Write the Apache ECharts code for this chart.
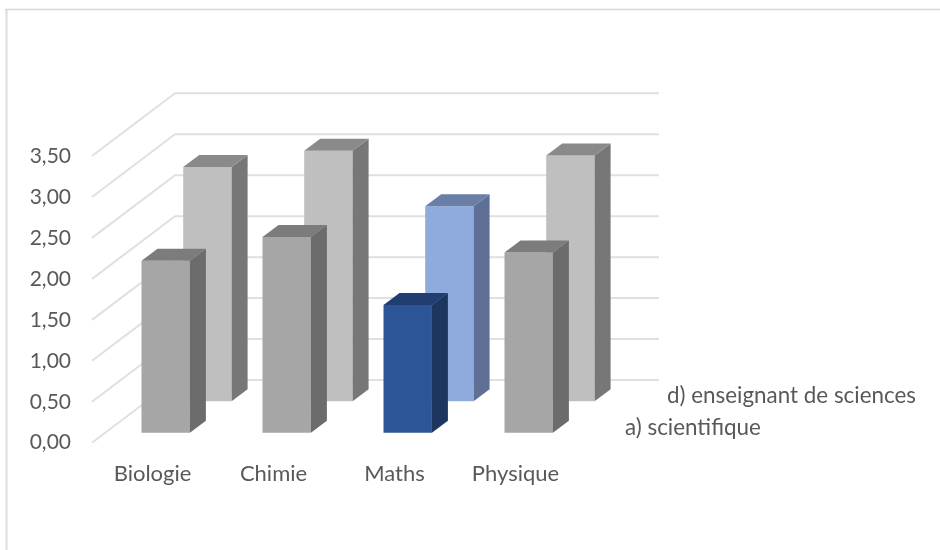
<!DOCTYPE html>
<html>
<head>
<meta charset="utf-8">
<style>html,body{margin:0;padding:0;background:#fff}#chart{width:940px;height:550px}</style>
<script src="https://cdn.jsdelivr.net/npm/echarts@6/dist/echarts.min.js"></script>
</head>
<body>
<div id="chart"></div>
<script>
// Subjects along the front edge, and the two rows of bars behind it
const categories = ['Biologie', 'Chimie', 'Maths', 'Physique'];
const scientifique = [2.10, 2.39, 1.56, 2.20];
const enseignant = [2.86, 3.06, 2.38, 3.00];
const yTicks = [0, 0.5, 1, 1.5, 2, 2.5, 3, 3.5];
const rowNames = ['a) scientifique', 'd) enseignant de sciences'];
const highlighted = 'Maths';

// Face colours of a box: front, side, top
const frontGrey = ['#a6a6a6', '#6c6c6c', '#7c7c7c'];
const backGrey = ['#bfbfbf', '#777777', '#8a8a8a'];
const frontBlue = ['#2c5597', '#1c3660', '#203e70'];
const backBlue = ['#8faadc', '#5f7097', '#6a7fa8'];

// Oblique projection: how far the floor recedes, and each row's place on it
const wallDepth = [83, -62.7];
const boxDepth = [16, -12];
const frontRow = [13.2, -10];
const backRow = [54.9, -41.4];
const barShare = 0.4;
const gridColor = '#e0e0e0';
const textColor = '#595959';
const font = 'Lato';

function wallItem(params, api) {
  const cs = params.coordSys;
  const y = api.coord([0, api.value(1)])[1];
  const bx = cs.x + wallDepth[0], by = y + wallDepth[1];
  return {
    type: 'polyline',
    shape: { points: [[cs.x, y], [bx, by], [bx + cs.width, by]] },
    style: { stroke: gridColor, lineWidth: 2, fill: null }
  };
}

function boxRenderer(row, plain, accent) {
  return function (params, api) {
    const i = api.value(0);
    const colors = categories[i] === highlighted ? accent : plain;
    const width = api.size([1, 0])[0] * barShare;
    const base = api.coord([i, 0]);
    const top = api.coord([i, api.value(1)]);
    const l = base[0] + row[0] - width / 2, r = l + width;
    const yb = base[1] + row[1], yt = top[1] + row[1];
    const dx = boxDepth[0], dy = boxDepth[1];
    const face = (points, fill) => ({
      type: 'polygon', shape: { points }, style: { fill, stroke: null }
    });
    return {
      type: 'group',
      children: [
        face([[l, yb], [r, yb], [r, yt], [l, yt]], colors[0]),
        face([[r, yb], [r + dx, yb + dy], [r + dx, yt + dy], [r, yt]], colors[1]),
        face([[l, yt], [r, yt], [r + dx, yt + dy], [l + dx, yt + dy]], colors[2])
      ]
    };
  };
}

const chart = echarts.init(document.getElementById('chart'), null, { renderer: 'canvas' });
chart.setOption({
  animation: false,
  backgroundColor: '#ffffff',
  textStyle: { fontFamily: font },
  grid: { left: 92, top: 156, width: 484, height: 286.7, containLabel: false },
  xAxis: {
    type: 'category',
    data: categories,
    axisLine: { show: false },
    axisTick: { show: false },
    axisLabel: { color: textColor, fontSize: 22, fontFamily: font, margin: 20 }
  },
  yAxis: {
    type: 'value',
    min: 0,
    max: 3.5,
    interval: 0.5,
    axisLine: { show: false },
    axisTick: { show: false },
    splitLine: { show: false },
    axisLabel: {
      color: textColor, fontSize: 21, fontFamily: font, margin: 21,
      lineHeight: 26,
      padding: [6, 0, 0, 0],
      formatter: v => v.toFixed(2).replace('.', ',')
    }
  },
  series: [
    {
      type: 'custom', name: 'walls', silent: true, clip: false,
      renderItem: wallItem,
      encode: { x: 0, y: 1 },
      data: yTicks.map(v => [0, v])
    },
    {
      type: 'custom', name: rowNames[1], clip: false,
      renderItem: boxRenderer(backRow, backGrey, backBlue),
      encode: { x: 0, y: 1 },
      data: enseignant.map((v, i) => [i, v])
    },
    {
      type: 'custom', name: rowNames[0], clip: false,
      renderItem: boxRenderer(frontRow, frontGrey, frontBlue),
      encode: { x: 0, y: 1 },
      data: scientifique.map((v, i) => [i, v])
    }
  ],
  graphic: [
    { type: 'line', silent: true, shape: { x1: 5, y1: 9.5, x2: 940, y2: 9.5 }, style: { stroke: '#d6d6d6', lineWidth: 1.5 } },
    { type: 'line', silent: true, shape: { x1: 6.5, y1: 9, x2: 6.5, y2: 550 }, style: { stroke: '#dcdcdc', lineWidth: 2 } },
    { type: 'text', silent: true, x: 625, y: 428, style: { text: rowNames[0], fill: textColor, font: '22.4px ' + font, textVerticalAlign: 'middle' } },
    { type: 'text', silent: true, x: 667, y: 396, style: { text: rowNames[1], fill: textColor, font: '22.4px ' + font, textVerticalAlign: 'middle' } }
  ]
});
</script>
</body>
</html>
